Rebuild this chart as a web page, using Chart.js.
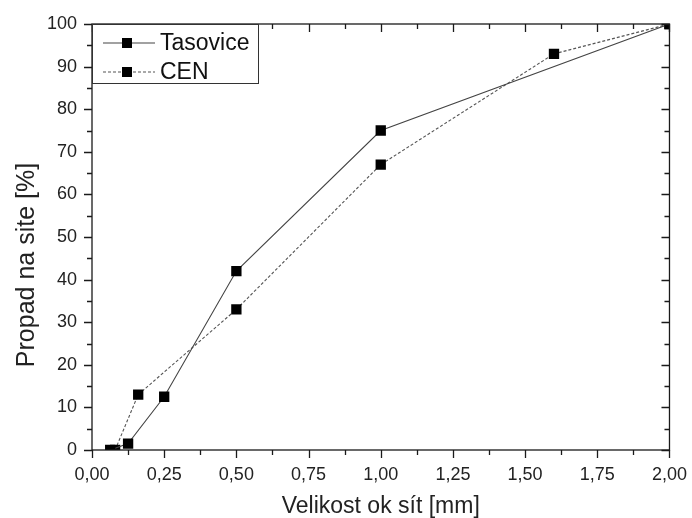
<!DOCTYPE html>
<html>
<head>
<meta charset="utf-8">
<script src="https://cdn.jsdelivr.net/npm/chart.js@4.4.1/dist/chart.umd.min.js"></script>
<style>
  html, body { margin: 0; padding: 0; background: #fff; }
  #wrap { width: 692px; height: 518px; }
</style>
</head>
<body>
<div id="wrap"><canvas id="graf"></canvas></div>
<script>
// Velikost ok sít [mm] a propad [%]
const tasoviceX = [0.063, 0.125, 0.25, 0.5, 1.0, 2.0];
const tasoviceY = [0, 1.5, 12.5, 42, 75, 100];
const cenX = [0.08, 0.16, 0.5, 1.0, 1.6, 2.0];
const cenY = [0, 13, 33, 67, 93, 100];

const xTicks = [0, 0.25, 0.5, 0.75, 1.0, 1.25, 1.5, 1.75, 2.0];
const yTicks = [0, 10, 20, 30, 40, 50, 60, 70, 80, 90, 100];

const font = "'Liberation Sans', Arial, sans-serif";
const barva = '#1a1a1a';
const popisekY = 'Propad na site [%]';

const body = (xs, ys) => xs.map((x, i) => ({ x: x, y: ys[i] }));

// ramecek, tiky, popisek osy y a legenda
const ramecek = {
    id: 'ramecek',
    afterDraw(chart) {
        const ctx = chart.ctx;
        const a = chart.chartArea;
        const sx = chart.scales.x;
        const sy = chart.scales.y;
        ctx.save();
        ctx.strokeStyle = barva;
        ctx.lineWidth = 1.3;
        ctx.strokeRect(a.left, a.top, a.right - a.left, a.bottom - a.top);

        ctx.beginPath();
        for (let v = 0; v <= 2.0001; v += 0.125) {
            const p = Math.round(sx.getPixelForValue(v)) + 0.5;
            const major = Math.abs(v / 0.25 - Math.round(v / 0.25)) < 1e-6;
            const len = major ? 8 : 5;
            ctx.moveTo(p, a.bottom); ctx.lineTo(p, a.bottom + len);
            ctx.moveTo(p, a.top); ctx.lineTo(p, a.top + len);
        }
        for (let v = 0; v <= 100; v += 5) {
            const p = Math.round(sy.getPixelForValue(v)) + 0.5;
            const len = v % 10 === 0 ? 8 : 5;
            ctx.moveTo(a.left, p); ctx.lineTo(a.left - len, p);
            ctx.moveTo(a.right, p); ctx.lineTo(a.right - len, p);
        }
        ctx.stroke();

        // popisek osy y
        ctx.save();
        ctx.translate(27, sy.getPixelForValue(50) + 28);
        ctx.rotate(-Math.PI / 2);
        ctx.fillStyle = '#222';
        ctx.font = '25px ' + font;
        ctx.textAlign = 'center';
        ctx.textBaseline = 'middle';
        ctx.fillText(popisekY, 0, 0);
        ctx.restore();

        // legenda
        const lx = a.left, ly = a.top, lw = 166, lh = 59;
        ctx.fillStyle = '#fff';
        ctx.fillRect(lx, ly, lw, lh);
        ctx.lineWidth = 1;
        ctx.strokeStyle = '#333';
        ctx.strokeRect(lx + 0.5, ly + 0.5, lw, lh);
        chart.data.datasets.forEach((ds, i) => {
            const yy = ly + 19 + i * 29;
            ctx.beginPath();
            ctx.strokeStyle = ds.borderColor;
            ctx.lineWidth = ds.borderWidth;
            ctx.setLineDash(ds.borderDash || []);
            ctx.moveTo(lx + 11, yy);
            ctx.lineTo(lx + 63, yy);
            ctx.stroke();
            ctx.setLineDash([]);
            ctx.fillStyle = '#000';
            ctx.fillRect(lx + 30, yy - 5, 10, 10);
            ctx.fillStyle = '#111';
            ctx.font = '23px ' + font;
            ctx.textBaseline = 'middle';
            ctx.fillText(ds.label, lx + 68, yy + 1);
        });
        ctx.restore();
    }
};

new Chart(document.getElementById('graf'), {
    type: 'scatter',
    data: {
        datasets: [{
            label: 'Tasovice',
            data: body(tasoviceX, tasoviceY),
            showLine: true,
            borderColor: '#444',
            borderWidth: 1.1,
            pointStyle: 'rect',
            pointRadius: 7.3,
            pointBackgroundColor: '#000',
            pointBorderColor: '#000',
            pointBorderWidth: 0
        }, {
            label: 'CEN',
            data: body(cenX, cenY),
            showLine: true,
            borderColor: '#555',
            borderWidth: 1.1,
            borderDash: [3, 2],
            pointStyle: 'rect',
            pointRadius: 7.3,
            pointBackgroundColor: '#000',
            pointBorderColor: '#000',
            pointBorderWidth: 0
        }]
    },
    options: {
        responsive: true,
        maintainAspectRatio: false,
        animation: false,
        layout: { padding: { top: 24, right: 3, left: 0, bottom: 0 } },
        plugins: {
            legend: { display: false },
            tooltip: { enabled: false }
        },
        scales: {
            x: {
                type: 'linear',
                min: 0,
                max: 2,
                afterBuildTicks: (s) => { s.ticks = xTicks.map(v => ({ value: v })); },
                afterFit: (s) => { s.height = 68; },
                grid: { display: true, drawOnChartArea: false, tickLength: 9, tickColor: 'rgba(0,0,0,0)' },
                border: { display: false },
                ticks: {
                    color: '#222',
                    font: { family: font, size: 18 },
                    padding: 5,
                    maxRotation: 0,
                    callback: (v) => v.toFixed(2).replace('.', ',')
                },
                title: {
                    display: true,
                    text: 'Velikost ok sít [mm]',
                    color: '#222',
                    font: { family: font, size: 23 },
                    padding: { top: 8, bottom: -2 }
                }
            },
            y: {
                min: 0,
                max: 100,
                afterBuildTicks: (s) => { s.ticks = yTicks.map(v => ({ value: v })); },
                afterFit: (s) => { s.width = 92; },
                grid: { display: true, drawOnChartArea: false, tickLength: 9, tickColor: 'rgba(0,0,0,0)' },
                border: { display: false },
                ticks: {
                    color: '#222',
                    font: { family: font, size: 18 },
                    padding: 6
                }
            }
        }
    },
    plugins: [ramecek]
});
</script>
</body>
</html>
